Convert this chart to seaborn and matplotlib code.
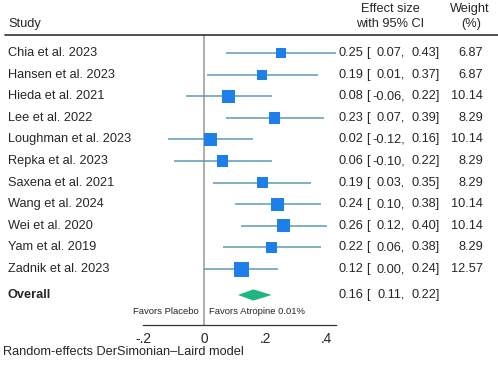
import numpy as np
import pandas as pd
import matplotlib.pyplot as plt
import matplotlib.transforms as mtransforms
from matplotlib.lines import Line2D
import seaborn as sns

# --- data ---
studies = ["Chia et al. 2023", "Hansen et al. 2023", "Hieda et al. 2021", "Lee et al. 2022",
           "Loughman et al. 2023", "Repka et al. 2023", "Saxena et al. 2021", "Wang et al. 2024",
           "Wei et al. 2020", "Yam et al. 2019", "Zadnik et al. 2023"]
effect = [0.25, 0.19, 0.08, 0.23, 0.02, 0.06, 0.19, 0.24, 0.26, 0.22, 0.12]
ci_low = [0.07, 0.01, -0.06, 0.07, -0.12, -0.10, 0.03, 0.10, 0.12, 0.06, 0.00]
ci_high = [0.43, 0.37, 0.22, 0.39, 0.16, 0.22, 0.35, 0.38, 0.40, 0.38, 0.24]
weight = [6.87, 6.87, 10.14, 8.29, 10.14, 8.29, 8.29, 10.14, 10.14, 8.29, 12.57]
overall_label = "Overall"
overall_es, overall_lo, overall_hi = 0.16, 0.11, 0.22
xticks = [-0.2, 0, 0.2, 0.4]
xtick_labels = ["-.2", "0", ".2", ".4"]

df = pd.DataFrame({"study": studies, "es": effect, "lo": ci_low, "hi": ci_high, "w": weight})
df["row"] = np.arange(len(df))
overall_row = 11.2

sns.set_style("white")
plt.rcParams["font.family"] = ["Liberation Sans", "DejaVu Sans"]

W, H = 498, 368
fig = plt.figure(figsize=(W / 100, H / 100), dpi=100)
# plot area in pixel terms: x from 143 to 336, y from 35 to 325
ax = fig.add_axes([143 / W, 1 - 325 / H, (336 - 143) / W, (325 - 35) / H])
ax.set_xlim(-0.2, 0.43)
ax.set_ylim(12.59, -0.833)

ci_color = "#5b9cb4"
sq_color = "#1f7fe8"
dia_color = "#1fb57c"
txt_size = 9.2

ax.axvline(0, color="#a0a0a0", lw=1.2, zorder=0)
ax.hlines(df["row"], df["lo"], df["hi"], color=ci_color, lw=1.1, zorder=1)
sns.scatterplot(data=df, x="es", y="row", size="w", sizes=(52, 117),
                marker="s", color=sq_color, edgecolor="none", legend=False, ax=ax, zorder=2)
ax.fill([overall_lo, overall_es, overall_hi, overall_es],
        [overall_row, overall_row - 0.26, overall_row, overall_row + 0.26],
        color=dia_color, lw=0, zorder=2)

for s in ["top", "right", "left"]:
    ax.spines[s].set_visible(False)
ax.spines["bottom"].set_color("#333333")
ax.spines["bottom"].set_linewidth(0.9)
ax.set_yticks([])
ax.set_xticks(xticks)
ax.set_xticklabels(xtick_labels, fontsize=9.8)
ax.tick_params(axis="x", length=4, width=0.9, color="#333333", pad=1)
ax.set_xlabel("")
ax.set_ylabel("")

# text columns
tr = mtransforms.blended_transform_factory(fig.transFigure, ax.transData)
def fx(px):
    return px / W

def ci_text(row, es, lo, hi):
    fig.text(fx(338), row, f"{es:.2f}", transform=tr, ha="left", va="center", fontsize=txt_size)
    fig.text(fx(366), row, "[", transform=tr, ha="left", va="center", fontsize=txt_size)
    fig.text(fx(405), row, f"{lo:.2f},", transform=tr, ha="right", va="center", fontsize=txt_size)
    fig.text(fx(440), row, f"{hi:.2f}]", transform=tr, ha="right", va="center", fontsize=txt_size)

for _, r in df.iterrows():
    fig.text(fx(8), r["row"], r["study"], transform=tr, ha="left", va="center", fontsize=txt_size)
    ci_text(r["row"], r["es"], r["lo"], r["hi"])
    fig.text(fx(483), r["row"], f"{r['w']:.2f}", transform=tr, ha="right", va="center", fontsize=txt_size)

fig.text(fx(8), overall_row, overall_label, transform=tr, ha="left", va="center",
         fontsize=txt_size, fontweight="bold")
ci_text(overall_row, overall_es, overall_lo, overall_hi)

# headers
fig.text(fx(8), 1 - 24 / H, "Study", ha="left", va="center", fontsize=txt_size)
fig.text(fx(390), 1 - 9 / H, "Effect size", ha="center", va="center", fontsize=txt_size)
fig.text(fx(390), 1 - 24 / H, "with 95% CI", ha="center", va="center", fontsize=txt_size)
fig.text(fx(470), 1 - 9 / H, "Weight", ha="center", va="center", fontsize=txt_size)
fig.text(fx(471), 1 - 24 / H, "(%)", ha="center", va="center", fontsize=txt_size)
fig.add_artist(Line2D([fx(5), fx(498)], [1 - 35 / H, 1 - 35 / H], color="#333333", lw=1.2))

# favors labels
fig.text(fx(199), 1 - 311 / H, "Favors Placebo", ha="right", va="center", fontsize=6.8)
fig.text(fx(209), 1 - 311 / H, "Favors Atropine 0.01%", ha="left", va="center", fontsize=6.8)

fig.text(fx(3), 1 - 352 / H, "Random-effects DerSimonian\u2013Laird model", ha="left", va="center",
         fontsize=txt_size)

fig.savefig("out.png", dpi=100)
